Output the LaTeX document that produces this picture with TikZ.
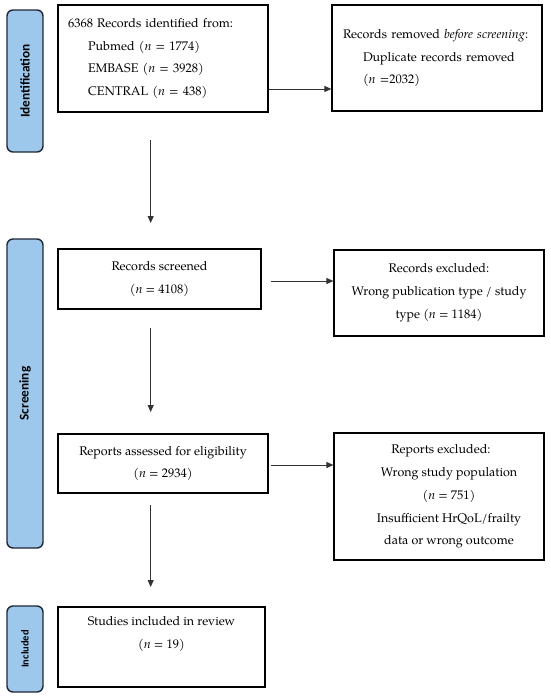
\documentclass[tikz,border=0pt]{standalone}
\usepackage{fontspec}
\setmainfont{texgyrepagella}[Extension=.otf,UprightFont=*-regular,ItalicFont=*-italic,BoldFont=*-bold,BoldItalicFont=*-bolditalic]
\newfontfamily\labfont{Carlito}
\usetikzlibrary{arrows.meta}
\definecolor{phase}{RGB}{157,200,235}
\definecolor{phaseedge}{RGB}{30,40,55}
\tikzset{
  phasebox/.style={draw=phaseedge,line width=1.4pt,fill=phase,rounded corners=6pt,
    minimum width=36pt,inner sep=0pt},
  phasetext/.style={font=\labfont\bfseries\fontsize{13.3}{15}\selectfont,rotate=90},
  flowbox/.style={draw=black,line width=1.2pt,inner sep=0pt,
    font=\fontsize{12.5}{22.8}\selectfont},
  arr/.style={draw=black!80,line width=0.9pt,-{Triangle[length=7pt,width=6pt]}}
}
\begin{document}
\begin{tikzpicture}[x=1pt,y=-1pt]
\useasboundingbox (0,0) rectangle (550,696);
% phase labels
\node[phasebox,minimum height=142pt] (pid) at (25,81) {};
\node[phasetext] (tid) at (pid.center) {Identification};
\node[phasebox,minimum height=309pt] (psc) at (25,393.5) {};
\node[phasetext] (tsc) at (psc.center) {Screening};
\node[phasebox,minimum height=86pt] (pin) at (25,649) {};
\node[phasetext,font=\labfont\bfseries\fontsize{10.5}{12}\selectfont] (tin) at (pin.center) {Included};
% boxes
\node[flowbox,minimum width=210pt,minimum height=107pt,text width=190pt,align=left] (b1) at (163,58.5)
 {6368 Records identified from:\\
  \hspace*{20pt}Pubmed (\textit{n} = 1774)\\
  \hspace*{20pt}EMBASE (\textit{n} = 3928)\\
  \hspace*{20pt}CENTRAL (\textit{n} = 438)};
\node[flowbox,minimum width=210pt,minimum height=106pt,text width=188pt,align=left] (b2) at (437,58)
 {Records removed \textit{before screening}:\\
  \hspace*{20pt}\makebox[168pt][s]{Duplicate records removed}\\
  \hspace*{20pt}(\textit{n} =2032)};
\node[flowbox,minimum width=203pt,minimum height=60pt,align=center] (b3) at (159.5,279)
 {Records screened\\(\textit{n} = 4108)};
\node[flowbox,minimum width=210pt,minimum height=86pt,align=center] (b4) at (439,293)
 {Records excluded:\\Wrong publication type / study\\type (\textit{n} = 1184)};
\node[flowbox,minimum width=210pt,minimum height=59pt,align=center] (b5) at (163,463.5)
 {Reports assessed for eligibility\\(\textit{n} = 2934)};
\node[flowbox,minimum width=210pt,minimum height=127pt,align=center] (b6) at (439,496.5)
 {\hspace*{4pt}Reports excluded:\\
  \hspace*{20pt}Wrong study population\\
  \hspace*{20pt}(\textit{n} = 751)\\
  \hspace*{20pt}Insufficient HrQoL/frailty\\
  \hspace*{20pt}data or wrong outcome};
\node[flowbox,minimum width=207pt,minimum height=80pt,align=center] (b7) at (161.5,647)
 {Studies included in review\\(\textit{n} = 19)\\\strut};
% connectors
\coordinate (s1) at (150.7,140);
\coordinate (e1) at (150.7,223);
\coordinate (s2) at (150.7,328);
\coordinate (e2) at (150.7,412);
\coordinate (s3) at (150.7,505);
\coordinate (e3) at (150.7,587);
\coordinate (h2) at (271,281);
\coordinate (h3) at (271,465);
\draw[arr] (b1.east |- 0,89) -- (b2.west |- 0,89);
\draw[arr] (s1) -- (e1);
\draw[arr] (h2) -- (b4.west |- h2);
\draw[arr] (s2) -- (e2);
\draw[arr] (h3) -- (b6.west |- h3);
\draw[arr] (s3) -- (e3);
\end{tikzpicture}
\end{document}
